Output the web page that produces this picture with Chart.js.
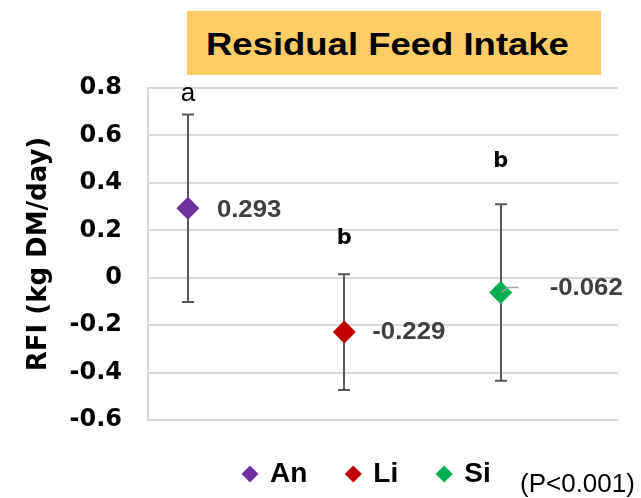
<!DOCTYPE html>
<html><head><meta charset="utf-8">
<script src="https://cdn.jsdelivr.net/npm/chart.js@4/dist/chart.umd.min.js"></script>
<style>
html,body{margin:0;padding:0;background:#fff;}
#wrap{position:relative;width:641px;height:498px;overflow:hidden;}
#c{position:absolute;left:0;top:0;}
#title{position:absolute;left:187px;top:11px;width:414px;height:64px;background:#FFCC66;}
#title span{position:absolute;left:19px;top:17px;font:bold 32px/32px "Liberation Sans",Arial,sans-serif;color:#000;white-space:nowrap;transform:scaleX(1.14);transform-origin:0 0;}
#pnote{position:absolute;left:520px;top:470px;font:26px/26px "Liberation Sans",Arial,sans-serif;color:#000;white-space:nowrap;}
</style></head>
<body>
<div id="wrap">
<canvas id="c" width="641" height="498"></canvas>
<div id="title"><span>Residual Feed Intake</span></div>
<div id="pnote">(P&lt;0.001)</div>
</div>
<script>
// ---- data ----
const groups = ['An', 'Li', 'Si'];
const xPositions = [1, 2, 3];
const means = [0.293, -0.229, -0.062];
const errors = [0.395, 0.244, 0.372];
const valueLabels = ['0.293', '-0.229', '-0.062'];
const letters = ['a', 'b', 'b'];
const yTicks = [-0.6, -0.4, -0.2, 0, 0.2, 0.4, 0.6, 0.8];

// ---- styles ----
const colors = ['#7030A0', '#C00000', '#00B050'];
const letterStyle = [
  {font: '26px "Liberation Sans", Arial', above: 14},
  {font: 'bold 21px "DejaVu Sans"', above: 30},
  {font: 'bold 21px "DejaVu Sans"', above: 37}
];
const labelOffsets = [[29, 2], [28, 0.5], [49, -4]];

const annot = {
  id: 'annot',
  afterLayout(chart) {
    const lg = chart.legend;
    if (lg) { const w = lg.right - lg.left; lg.left = 204; lg.right = 204 + w; }
  },
  beforeDatasetsDraw(chart) {
    const {ctx, scales: {x, y}} = chart;
    ctx.save();
    ctx.strokeStyle = '#595959';
    ctx.lineWidth = 2;
    means.forEach((m, i) => {
      const px = Math.round(x.getPixelForValue(xPositions[i]));
      const top = y.getPixelForValue(m + errors[i]);
      const bot = y.getPixelForValue(m - errors[i]);
      ctx.beginPath();
      ctx.moveTo(px, top); ctx.lineTo(px, bot);
      ctx.moveTo(px - 6, top); ctx.lineTo(px + 6, top);
      ctx.moveTo(px - 6, bot); ctx.lineTo(px + 6, bot);
      ctx.stroke();
    });
    ctx.restore();
  },
  afterDatasetsDraw(chart) {
    const {ctx, scales: {x, y}} = chart;
    ctx.save();
    means.forEach((m, i) => {
      const px = x.getPixelForValue(xPositions[i]);
      const py = y.getPixelForValue(m);
      const top = y.getPixelForValue(m + errors[i]);
      // value label
      ctx.save();
      ctx.fillStyle = '#404040';
      ctx.font = 'bold 23px "Liberation Sans", Arial';
      ctx.textAlign = 'left';
      ctx.textBaseline = 'middle';
      ctx.translate(px + labelOffsets[i][0], py + labelOffsets[i][1]);
      ctx.scale(1.12, 1);
      ctx.fillText(valueLabels[i], 0, 0);
      ctx.restore();
      // significance letter
      ctx.fillStyle = '#000';
      ctx.font = letterStyle[i].font;
      ctx.textAlign = 'center';
      ctx.textBaseline = 'alphabetic';
      ctx.fillText(letters[i], px, top - letterStyle[i].above);
    });
    // leader line for the Si label
    const sx = x.getPixelForValue(xPositions[2]);
    const sy = y.getPixelForValue(means[2]);
    ctx.strokeStyle = '#a6a6a6';
    ctx.lineWidth = 1.5;
    ctx.beginPath();
    ctx.moveTo(sx + 1, sy);
    ctx.lineTo(sx + 7, sy - 5);
    ctx.lineTo(sx + 18, sy - 5);
    ctx.stroke();
    ctx.restore();
  }
};

new Chart(document.getElementById('c'), {
  type: 'scatter',
  data: {
    datasets: groups.map((g, i) => ({
      label: g,
      data: [{x: xPositions[i], y: means[i]}],
      backgroundColor: colors[i],
      borderColor: colors[i],
      borderWidth: 0,
      pointStyle: 'rectRot',
      pointRadius: 11.5,
      pointHoverRadius: 11.5,
      pointBorderWidth: 0,
      showLine: false
    }))
  },
  options: {
    responsive: false,
    animation: false,
    layout: {padding: {top: 88, right: 23, left: 0, bottom: 0}},
    scales: {
      x: {type: 'linear', min: 0.745, max: 3.75, display: false},
      y: {
        min: -0.6, max: 0.8,
        afterBuildTicks: s => { s.ticks = yTicks.map(v => ({value: v})); },
        afterFit: s => { s.width = 148; },
        ticks: {
          font: {family: 'DejaVu Sans', weight: 'bold', size: 24},
          color: '#000', padding: 26,
          callback: v => String(Number(Number(v).toFixed(1)))
        },
        grid: {color: '#d9d9d9', lineWidth: 2, drawTicks: false},
        border: {color: '#d9d9d9', width: 2},
        title: {
          display: true, text: 'RFI (kg DM/day)', color: '#000',
          font: {family: 'DejaVu Sans', weight: 'bold', size: 26},
          padding: {top: 24, bottom: 0}
        }
      }
    },
    plugins: {
      tooltip: {enabled: false},
      legend: {
        position: 'bottom', align: 'start',
        labels: {
          usePointStyle: true, boxWidth: 12, boxHeight: 12, padding: 40, color: '#000',
          font: {family: 'Liberation Sans', weight: 'bold', size: 28}
        }
      }
    }
  },
  plugins: [annot]
});
</script>
</body></html>
